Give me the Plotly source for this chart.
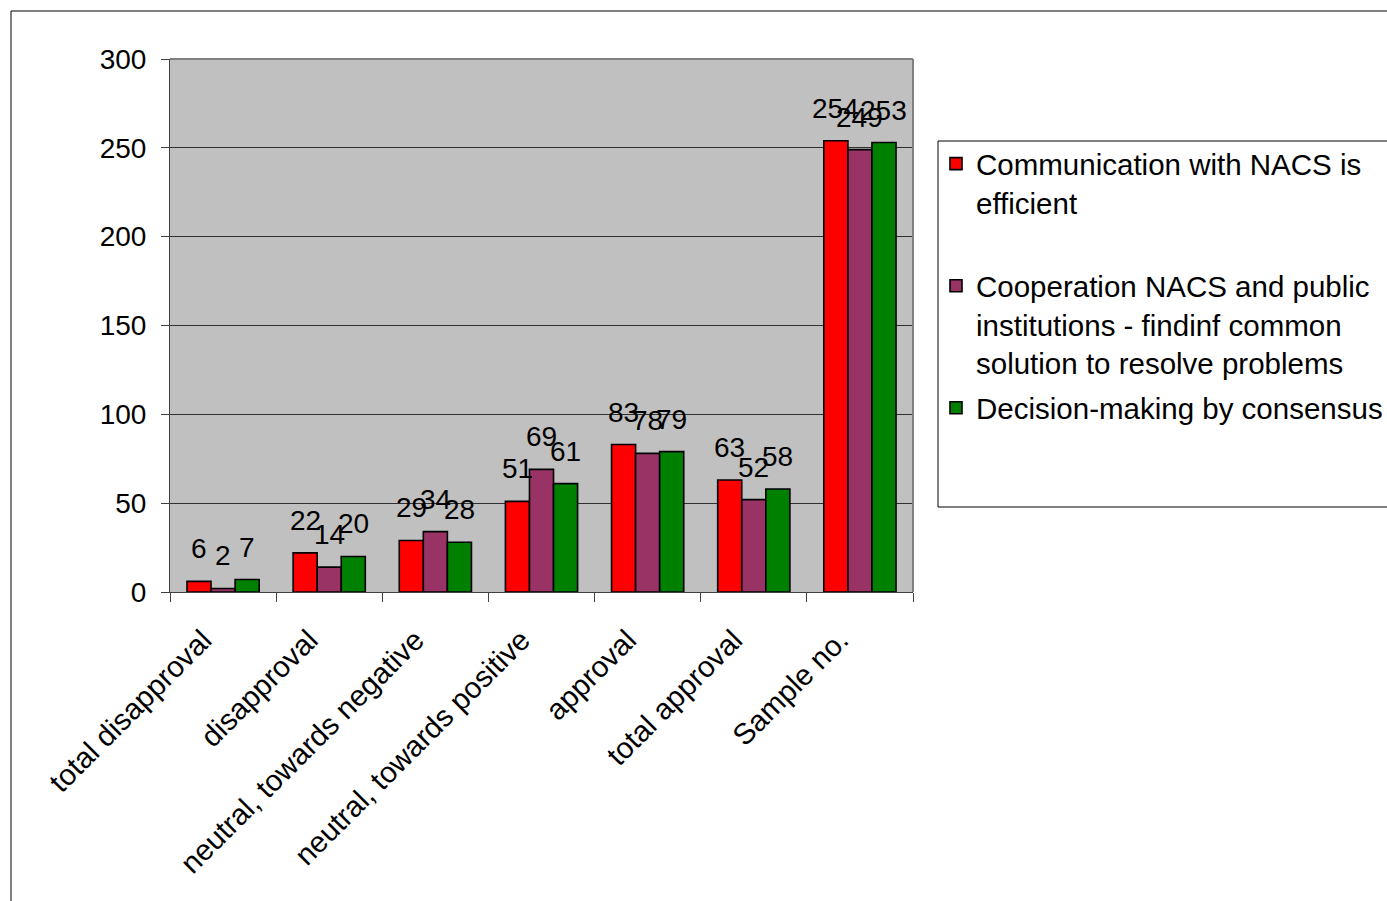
import plotly.graph_objects as go

# Survey answers per response category
categories = [
    "total disapproval",
    "disapproval",
    "neutral, towards negative",
    "neutral, towards positive",
    "approval",
    "total approval",
    "Sample no.",
]
communication = [6, 22, 29, 51, 83, 63, 254]
cooperation = [2, 14, 34, 69, 78, 52, 249]
consensus = [7, 20, 28, 61, 79, 58, 253]

series_names = [
    "Communication with NACS is<br>efficient<br> ",
    "Cooperation NACS and public<br>institutions - findinf common<br>solution to resolve problems",
    "Decision-making by consensus",
]
series_values = [communication, cooperation, consensus]
series_colors = ["#FF0000", "#993366", "#008000"]

y_ticks = [0, 50, 100, 150, 200, 250, 300]

FONT = "Liberation Sans, Arial, sans-serif"
W, H = 1387, 901
L, R, T, B = 170, 913, 59, 592  # plot area in pixels


def px_x(p):
    return (p - L) / (R - L)


def px_y(p):
    return (B - p) / (B - T)


fig = go.Figure()
for i, (name, vals, col) in enumerate(zip(series_names, series_values, series_colors)):
    fig.add_trace(go.Bar(
        x=categories, y=vals, name=name, legendgroup=f"g{i}",
        marker=dict(color=col, line=dict(color="black", width=1.6)),
    ))

# value labels above each bar
bar_shift = [-24, 0, 24]
annotations = []
for shift, vals in zip(bar_shift, series_values):
    for c, v in zip(categories, vals):
        annotations.append(dict(
            x=c, y=v, xref="x", yref="y", text=str(v), showarrow=False,
            xshift=shift, yshift=15, yanchor="bottom", xanchor="center",
            font=dict(family=FONT, size=28, color="black"),
        ))

shapes = [
    # outer chart frame
    dict(type="rect", xref="paper", yref="paper",
         x0=px_x(11), x1=px_x(1420), y0=px_y(940), y1=px_y(11),
         line=dict(color="black", width=1), fillcolor="rgba(0,0,0,0)"),
    # plot area top and right edges
    dict(type="line", xref="paper", yref="paper", x0=0, x1=1, y0=1, y1=1,
         line=dict(color="#808080", width=2)),
    dict(type="line", xref="paper", yref="paper", x0=1, x1=1, y0=0, y1=1,
         line=dict(color="#808080", width=2)),
    # legend frame
    dict(type="rect", xref="paper", yref="paper",
         x0=px_x(938), x1=px_x(1420), y0=px_y(507), y1=px_y(141),
         line=dict(color="black", width=1), fillcolor="rgba(0,0,0,0)"),
]

fig.update_layout(
    width=W, height=H,
    margin=dict(l=L, r=W - R, t=T, b=H - B, autoexpand=False),
    paper_bgcolor="white",
    plot_bgcolor="#C0C0C0",
    barmode="group",
    bargap=0.32,
    bargroupgap=0,
    font=dict(family=FONT, size=28, color="black"),
    showlegend=True,
    legend=dict(
        x=px_x(936), y=px_y(138), xanchor="left", yanchor="top",
        bgcolor="rgba(0,0,0,0)", borderwidth=0,
        font=dict(family=FONT, size=29.5, color="black"),
        valign="top", itemwidth=30, traceorder="grouped", tracegroupgap=4,
    ),
    xaxis=dict(
        type="category", tickson="boundaries", ticks="outside", ticklen=9,
        tickcolor="#404040", tickwidth=1, tickangle=-45,
        ticklabelstandoff=18, ticklabelshift=-20,
        showline=True, linecolor="#404040", linewidth=1,
        showgrid=False, zeroline=False,
        tickfont=dict(family=FONT, size=29.5, color="black"),
    ),
    yaxis=dict(
        range=[0, 300], tickvals=y_ticks, ticks="outside", ticklen=8,
        tickcolor="#404040", tickwidth=1, ticklabelstandoff=9,
        showline=True, linecolor="#404040", linewidth=1,
        showgrid=True, gridcolor="#303030", gridwidth=1,
        zeroline=False,
        tickfont=dict(family=FONT, size=28, color="black"),
    ),
    annotations=annotations,
    shapes=shapes,
)

fig.write_html("out.html")
